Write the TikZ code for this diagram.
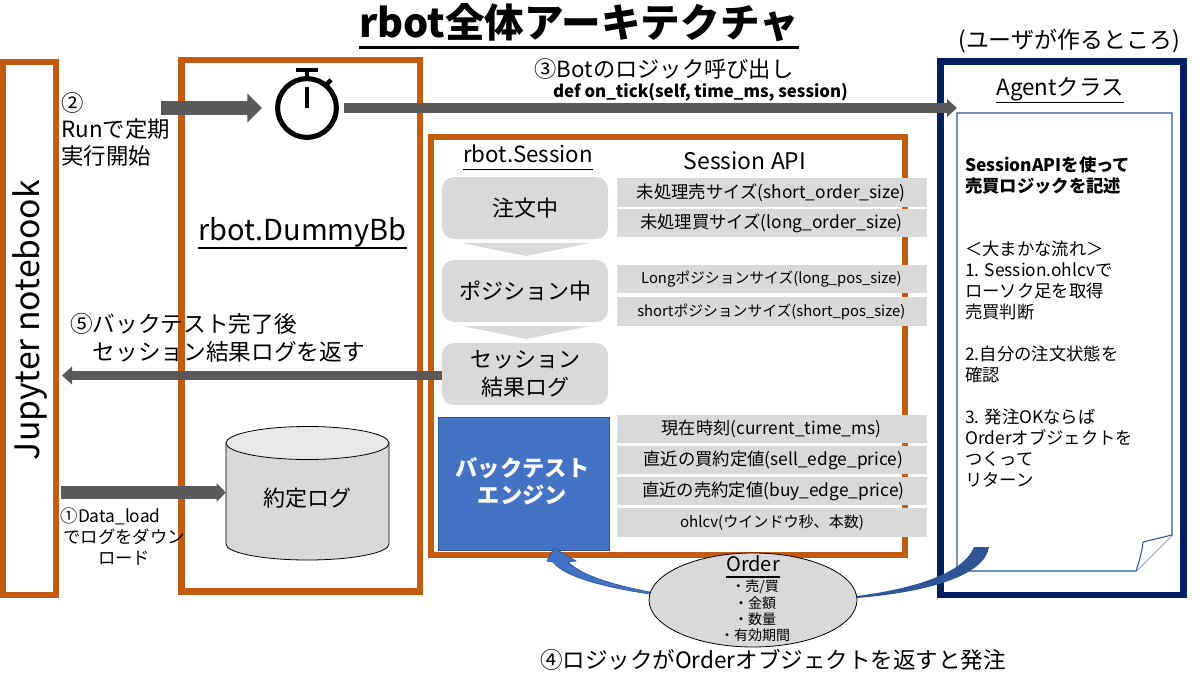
\documentclass[tikz,border=0pt]{standalone}
\usepackage{fontspec}
\setmainfont{Noto Sans CJK JP}
\usetikzlibrary{arrows.meta,fit,shapes.geometric}
\definecolor{orangeF}{HTML}{C55A11}
\definecolor{navyF}{HTML}{002060}
\definecolor{barG}{HTML}{595959}
\definecolor{boxG}{HTML}{D9D9D9}
\definecolor{topG}{HTML}{E8E8E8}
\definecolor{blueE}{HTML}{4472C4}
\definecolor{blueD}{HTML}{2F5597}
\tikzset{
  fz/.style n args={2}{font=\fontsize{#1}{#2}\selectfont},
  txt/.style={inner sep=0pt,text=black},
  orangeframe/.style={draw=orangeF,line width=4.9pt,inner sep=0pt,fill=white},
  navyframe/.style={draw=navyF,line width=5.2pt,inner sep=0pt,fill=white},
  statebox/.style={fill=boxG,rounded corners=9pt,inner sep=0pt},
  apirow/.style={fill=boxG,inner sep=0pt},
  chev/.style={fill=boxG},
  ulline/.style={line width=#1,black},
}
\begin{document}
\begin{tikzpicture}[x=.75pt,y=-.75pt]
\useasboundingbox (0,0) rectangle (1200,675);
% frames
\node[orangeframe,fit={(3,62)(56,595)}] (jup) {};
\node[orangeframe,fit={(181.5,60)(420,591.5)}] (dummy) {};
\node[orangeframe,fit={(431,137)(905,555)}] (session) {};
\node[navyframe,fit={(940.5,61.5)(1183.5,595)}] (agent) {};
% title
\node[txt,font=\fontsize{29.7}{36}\selectfont\bfseries] (title) at (579,23) {rbot全体アーキテクチャ};
\draw[ulline=2.4pt] ([yshift=-7.5pt]title.base west) -- ([yshift=-7.5pt]title.base east);
\node[txt,fz={17.2}{20}] (usr) at (1069,41) {(ユーザが作るところ)};
% Jupyter
\node[txt,fz={25.3}{30},rotate=90] (juplabel) at (30,320) {Jupyter notebook};
% Dummy label
\node[txt,fz={21.7}{26}] (dummylabel) at (302.5,232) {rbot.DummyBb};
\draw[ulline=1.2pt] ([yshift=-6pt]dummylabel.base west) -- ([yshift=-6pt]dummylabel.base east);
% stopwatch
\node[circle,draw=black,line width=3.8pt,minimum size=44pt,inner sep=0pt] (watch) at (307,108) {};
\fill (296,68) rectangle (318,72);
\draw[black,line width=3pt] (307,72) -- (307,80);
\draw[black,line width=2.6pt] (307,87) -- (watch.center);
\draw[black,line width=3.2pt] (326,85) -- (331,80);
% cylinder
\node[inner sep=0pt,fit={(226,427)(389,560)}] (cyl) {};
\draw[black,fill=boxG,line width=.6pt] (226,443) -- (226,544) arc[start angle=180,end angle=0,x radius=81.5,y radius=16] -- (389,443) -- cycle;
\draw[black,fill=topG,line width=.6pt] (307.5,443) ellipse[x radius=81.5,y radius=16.5];
\node[txt,fz={16.5}{20}] (cyllabel) at (307.5,498) {約定ログ};
% gray arrows
\coordinate (a1s) at (61,492.5);
\coordinate (a1e) at (cyl.west |- a1s);
\coordinate (a2s) at (161,108);
\coordinate (a2e) at (262,108);
\coordinate (a3s) at (344,108);
\coordinate (a3e) at (957,108);
\draw[-{Triangle[length=6.8pt,width=13.5pt]},barG,line width=9.8pt] (a1s) -- (a1e);
\draw[-{Triangle[length=11pt,width=21pt]},barG,line width=11pt] (a2s) -- (a2e);
\draw[-{Triangle[length=7.5pt,width=13pt]},barG,line width=7.2pt] (a3s) -- (a3e);
% session column
\node[txt,fz={16.7}{20}] (sesslabel) at (528,154) {rbot.Session};
\draw[ulline=1.1pt] ([yshift=-5pt]sesslabel.base west) -- ([yshift=-5pt]sesslabel.base east);
\node[txt,fz={17.2}{20}] (apilabel) at (745,161) {Session API};
\coordinate (a5e) at (62,375.5);
\node[statebox,fit={(442,343)(608,405)}] (st3) {};
\draw[-{Triangle[length=7.5pt,width=13pt]},barG,line width=7pt] (st3.west |- a5e) -- (a5e);
\node[txt,align=center,fz={16.5}{21}] (st3t) at (st3.center) {セッション\\結果ログ};
\node[statebox,fit={(442,177)(608,239)}] (st1) {};
\node[txt,fz={16.5}{21}] (st1t) at (st1.center) {注文中};
\node[statebox,fit={(442,260)(608,322)}] (st2) {};
\node[txt,fz={16.5}{21}] (st2t) at (st2.center) {ポジション中};
\fill[chev] (462,243) -- (590,243) -- (526,256) -- cycle;
\fill[chev] (462,326) -- (590,326) -- (526,339) -- cycle;
% API rows
\node[apirow,fit={(617,178)(927,207)}] (r1) {};
\node[txt,fz={13}{15}] (r1t) at ([xshift=-.5pt]r1.center) {未処理売サイズ(short\_order\_size)};
\node[apirow,fit={(617,209)(927,237)}] (r2) {};
\node[txt,fz={13}{15}] (r2t) at ([xshift=-.5pt]r2.center) {未処理買サイズ(long\_order\_size)};
\node[apirow,fit={(617,265)(927,293)}] (r3) {};
\node[txt,fz={11.1}{14}] (r3t) at ([xshift=-.5pt]r3.center) {Longポジションサイズ(long\_pos\_size)};
\node[apirow,fit={(617,297)(927,326)}] (r4) {};
\node[txt,fz={11.1}{14}] (r4t) at ([xshift=-.5pt]r4.center) {shortポジションサイズ(short\_pos\_size)};
\node[apirow,fit={(617,415)(927,443)}] (r5) {};
\node[txt,fz={12.9}{15}] (r5t) at ([xshift=-.5pt]r5.center) {現在時刻(current\_time\_ms)};
\node[apirow,fit={(617,446)(927,474)}] (r6) {};
\node[txt,fz={13}{15}] (r6t) at ([xshift=1pt]r6.center) {直近の買約定値(sell\_edge\_price)};
\node[apirow,fit={(617,477)(927,505)}] (r7) {};
\node[txt,fz={13}{15}] (r7t) at ([xshift=1pt]r7.center) {直近の売約定値(buy\_edge\_price)};
\node[apirow,fit={(617,508)(927,537)}] (r8) {};
\node[txt,fz={11.3}{14}] (r8t) at (r8.center) {ohlcv(ウインドウ秒、本数)};
% engine
\node[draw=blueD,fill=blueE,line width=.6pt,inner sep=0pt,fit={(438,417)(609,550)}] (engine) {};
\node[txt,text=white,align=center,font=\fontsize{16.7}{20}\selectfont\bfseries] (enginet) at (522.5,481) {バックテスト\\エンジン};
% agent
\node[txt,fz={16.8}{20}] (agentlabel) at (1060,89) {Agentクラス};
\draw[ulline=1.1pt] ([yshift=-5.5pt]agentlabel.base west) -- ([yshift=-5.5pt]agentlabel.base east);
\draw[blueD,fill=white,line width=.8pt] (957,113) -- (1172,113) -- (1172,535) -- (1136,571) -- (957,571) -- cycle;
\draw[blueD,fill=white,line width=.8pt] (1172,535) -- (1143,542) .. controls (1142,552) and (1139,562) .. (1136,571);
\node[txt,anchor=north west,align=left,fz={13}{15.75}] (doc) at (965,156.5) {%
{\bfseries SessionAPIを使って}\\{\bfseries 売買ロジックを記述}\\~\\~\\
＜大まかな流れ＞\\1. Session.ohlcvで\\ローソク足を取得\\売買判断\\~\\2.自分の注文状態を\\確認\\~\\3. 発注OKならば\\Orderオブジェクトを\\つくって\\リターン};
% order ellipse
\node[draw=black,fill=boxG,ellipse,line width=.6pt,minimum width=156pt,minimum height=70.5pt,inner sep=0pt] (order) at (753,600) {};
\node[txt,fz={15}{18}] (ordert) at (753,564) {Order};
\draw[ulline=1.4pt] ([yshift=-4pt]ordert.base west) -- ([yshift=-4pt]ordert.base east);
\node[txt,align=center,fz={10.5}{12.2}] (orderl) at (755,611) {・売/買\\・金額\\・数量\\・有効期間};
% blue curved arrows
\fill[blueD] (989,547) -- (974,547) .. controls (965,570) and (925,587) .. (857,596) -- (857,598) .. controls (930,592) and (985,575) .. (989,547) -- cycle;
\filldraw[fill=blueE,draw=blueD,line width=.5pt] (649.5,592) .. controls (620,586) and (585,578) .. (568,562) -- (576,561) -- (554,548) -- (547,561) -- (553,562) .. controls (565,578) and (610,588) .. (649.5,594) -- cycle;
% labels
\node[txt,anchor=north west,align=left,fz={16.8}{20}] (l2) at (61,92) {②\\Runで定期\\実行開始};
\node[txt,fz={16.7}{20}] (l3) at (664,69) {③Botのロジック呼び出し};
\node[txt,font=\fontsize{12.6}{15}\selectfont\bfseries] (l3b) at (700.5,92) {def on\_tick(self, time\_ms, session)};
\node[txt,anchor=north west,align=left,fz={17}{21}] (l5) at (70,313) {⑤バックテスト完了後\\\hspace*{17pt}セッション結果ログを返す};
\node[txt,align=center,fz={13}{15.75}] (l1) at (124,537) {①Data\_load\hspace*{20pt}\\でログをダウン\\ロード};
\node[txt,fz={16.9}{20}] (l4) at (773,660) {④ロジックがOrderオブジェクトを返すと発注};
\end{tikzpicture}
\end{document}
